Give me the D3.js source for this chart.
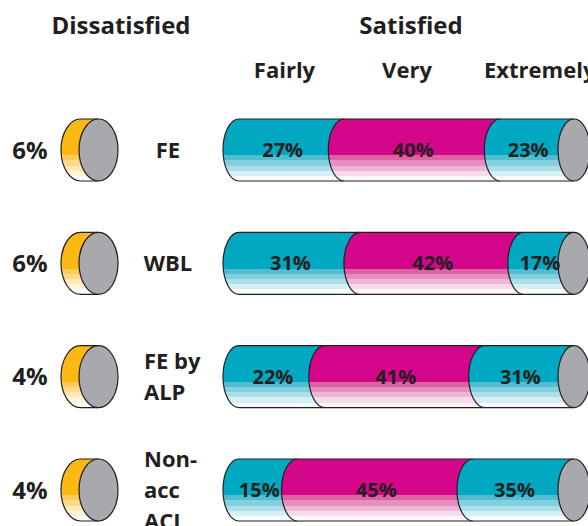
<!DOCTYPE html>
<html><head><meta charset="utf-8">
<script src="https://cdn.jsdelivr.net/npm/d3@7"></script>
<style>
html,body{margin:0;padding:0;background:#fff;}
svg{display:block;}
text{font-family:"Open Sans",sans-serif;font-weight:bold;fill:#231f20;}
</style></head>
<body>
<svg id="chart" width="588" height="526"></svg>
<script>
// ---- data ----
const rows = ["FE", "WBL", "FE by ALP", "Non-acc ACL"];
const rowLabelLines = [["FE"], ["WBL"], ["FE by", "ALP"], ["Non-", "acc", "ACL"]];
const dissatisfied = [6, 6, 4, 4];
const fairly = [27, 31, 22, 15];
const very = [40, 42, 41, 45];
const extremely = [23, 17, 31, 35];
const groupTitles = ["Dissatisfied", "Satisfied"];
const levelTitles = ["Fairly", "Very", "Extremely"];

// ---- styles ----
const ink = "#231f20";
const grey = "#a7a9ac";
const palettes = {
  teal: ["#00a8c1", "#52bdd1", "#84cfdf", "#addfe9", "#d5eff4", "#f7fcfd"],
  magenta: ["#d4078a", "#dc62a2", "#e48fbf", "#edb6d6", "#f6dcea", "#fdf5f9"],
  yellow: ["#fdb913", "#fdca5c", "#fed98c", "#ffe7b7", "#fff3dc", "#fffcf7"]
};
const segColors = ["teal", "magenta", "teal"];

const svg = d3.select("#chart");
const defs = svg.append("defs");
Object.entries(palettes).forEach(([k, cols]) => {
  const g = defs.append("linearGradient").attr("id", "g-" + k)
    .attr("x1", 0).attr("y1", 0).attr("x2", 0).attr("y2", 1);
  const stops = [0, 0.585, 0.668, 0.752, 0.835, 0.918, 1];
  cols.forEach((c, i) => {
    g.append("stop").attr("offset", stops[i]).attr("stop-color", c);
    g.append("stop").attr("offset", stops[i + 1]).attr("stop-color", c);
  });
});

// scales
const y = d3.scalePoint().domain(rows).range([150, 490]);
const x = d3.scaleLinear().domain([0, 100]).range([239, 629]);
const capX = 574;
const rx = 16, ry = 31;

function segPaths(a, b, cy, rxx) {
  const top = cy - ry, bot = cy + ry;
  const fill = `M${b},${top} L${a},${top} A${rxx},${ry} 0 0 0 ${a},${bot} L${b},${bot} Z`;
  const stroke = `M${b},${top} L${a},${top} A${rxx},${ry} 0 0 0 ${a},${bot} L${b},${bot}`;
  return [fill, stroke];
}

// titles
svg.append("text").attr("x", 121).attr("y", 34).attr("text-anchor", "middle")
  .style("font-size", "24px").text(groupTitles[0]);
svg.append("text").attr("x", 411).attr("y", 34).attr("text-anchor", "middle")
  .style("font-size", "24px").text(groupTitles[1]);
const levelX = [284.5, 407, 484];
const levelAnchor = ["middle", "middle", "start"];
levelTitles.forEach((t, i) => {
  svg.append("text").attr("x", levelX[i]).attr("y", 78).attr("text-anchor", levelAnchor[i])
    .style("font-size", "22px").text(t);
});

rows.forEach((r, ri) => {
  const cy = y(r);
  const g = svg.append("g");

  // dissatisfied small cylinder
  const sx0 = 80.5, sx1 = 98.5, srx = 19.5;
  const [sf, ss] = segPaths(sx0, sx1, cy, srx);
  g.append("path").attr("d", sf).attr("fill", "url(#g-yellow)");
  g.append("path").attr("d", ss).attr("fill", "none").attr("stroke", ink).attr("stroke-width", 1.2);
  g.append("ellipse").attr("cx", sx1).attr("cy", cy).attr("rx", srx).attr("ry", ry)
    .attr("fill", grey).attr("stroke", ink).attr("stroke-width", 1.2);
  g.append("text").attr("x", 30).attr("y", cy + 8.5).attr("text-anchor", "middle")
    .style("font-size", "24px").text(dissatisfied[ri] + "%");

  // row label
  const lines = rowLabelLines[ri];
  const lh = 31;
  lines.forEach((ln, li) => {
    const ly = cy + 7.5 + (li - (lines.length - 1) / 2) * lh;
    if (lines.length === 1) {
      g.append("text").attr("x", 168).attr("y", ly).attr("text-anchor", "middle")
        .style("font-size", "22px").text(ln);
    } else {
      g.append("text").attr("x", 144).attr("y", ly).attr("text-anchor", "start")
        .style("font-size", "22px").text(ln);
    }
  });

  // satisfied segments
  const vals = [fairly[ri], very[ri], extremely[ri]];
  let cum = 0;
  const segs = vals.map((v, i) => {
    const a = x(cum);
    cum += v;
    const b = i === vals.length - 1 ? capX : Math.min(x(cum), capX);
    return { a, b, v, color: segColors[i] };
  });
  segs.forEach(s => {
    const [f, st] = segPaths(s.a, s.b, cy, rx);
    g.append("path").attr("d", f).attr("fill", `url(#g-${s.color})`);
    g.append("path").attr("d", st).attr("fill", "none").attr("stroke", ink).attr("stroke-width", 1.2);
  });
  g.append("ellipse").attr("cx", capX).attr("cy", cy).attr("rx", rx).attr("ry", ry)
    .attr("fill", grey).attr("stroke", ink).attr("stroke-width", 1.2);
  segs.forEach(s => {
    g.append("text").attr("x", (s.a + s.b) / 2 - 9).attr("y", cy + 7)
      .attr("text-anchor", "middle").style("font-size", "20px").text(s.v + "%");
  });
});
</script>
</body></html>
